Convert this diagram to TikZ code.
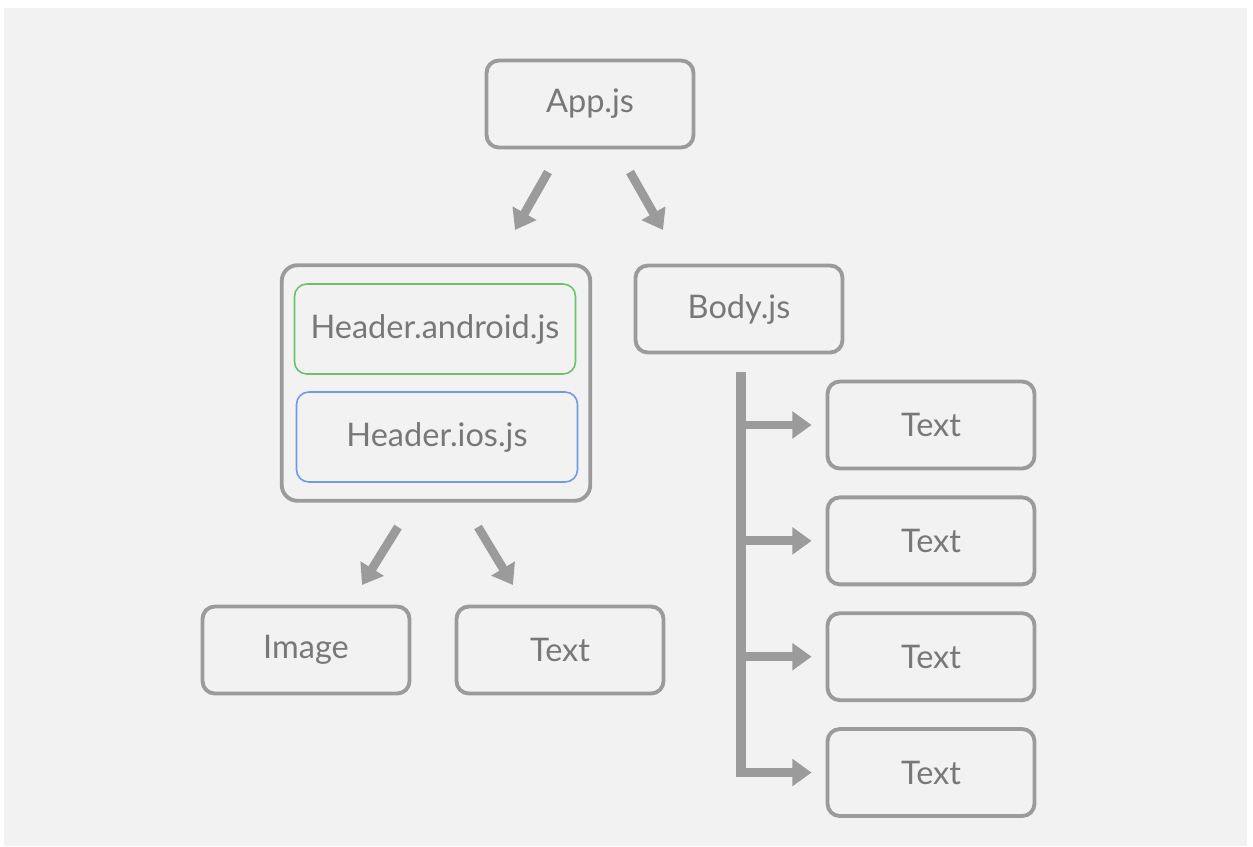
\documentclass[tikz,border=0pt]{standalone}
\usepackage{fontspec}
\setmainfont{Lato}
\usetikzlibrary{positioning,arrows.meta,fit}
\definecolor{boxgray}{HTML}{9B9B9B}
\definecolor{bggray}{HTML}{F2F2F2}
\definecolor{txtgray}{HTML}{787878}
\definecolor{droidgreen}{HTML}{6CC16A}
\definecolor{iosblue}{HTML}{6F9BE6}

\begin{document}
\begin{tikzpicture}[x=0.02cm, y=-0.02cm, node distance=0.5cm,
    box/.style={draw=boxgray, line width=2.2pt, rounded corners=7pt, fill=bggray,
        minimum width=4.14cm, minimum height=1.74cm, font=\fontsize{18.5}{22}\selectfont, text=txtgray},
    platbox/.style={draw=#1, line width=0.9pt, rounded corners=7pt,
        minimum width=5.62cm, minimum height=1.8cm, font=\fontsize{18.5}{22}\selectfont, text=txtgray},
    bigarrow/.style={draw=boxgray, line width=5pt, -{Triangle[length=11pt,width=15pt]}}]
    % page and grey panel
    \fill[white] (0,0) rectangle (1253,846);
    \fill[bggray] (4,8) rectangle (1247,846);

    \node[box] (app) at (590,104) {App.js};
    \node[box] (body) at (739,309) {Body.js};

    \node[platbox=droidgreen] (android) at (435,329) {Header.android.js};
    \node[platbox=iosblue] (ios) at (437,437) {Header.ios.js};
    \node[draw=boxgray, line width=2.2pt, rounded corners=9pt, inner xsep=0.24cm, inner ysep=0.36cm,
        fit=(android) (ios)] (header) {};

    \node[box] (image) at (306,650) {Image};
    \node[box] (htext) at (560,650) {Text};

    \node[box] (t1) at (931,425) {Text};
    \node[box] (t2) [below=of t1] {Text};
    \node[box] (t3) [below=of t2] {Text};
    \node[box] (t4) [below=of t3] {Text};

    % arrows from App.js
    \coordinate (a1) at (548,172);
    \coordinate (a2) at (515,230);
    \coordinate (a3) at (630,172);
    \coordinate (a4) at (663,230);
    \draw[bigarrow] (a1) -- (a2);
    \draw[bigarrow] (a3) -- (a4);

    % arrows below the header
    \coordinate (b1) at (398,527);
    \coordinate (b2) at (362,585);
    \coordinate (b3) at (478,527);
    \coordinate (b4) at (513,585);
    \draw[bigarrow] (b1) -- (b2);
    \draw[bigarrow] (b3) -- (b4);

    % bar from Body.js
    \coordinate (bartop) at (741,372);
    \coordinate (barbot) at (741,777);
    \draw[boxgray, line width=5.5pt] (bartop) -- (barbot);
    \foreach \t in {t1,t2,t3,t4}
        \draw[bigarrow] (bartop |- \t.west) -- ([xshift=-0.28cm]\t.west);
\end{tikzpicture}
\end{document}
